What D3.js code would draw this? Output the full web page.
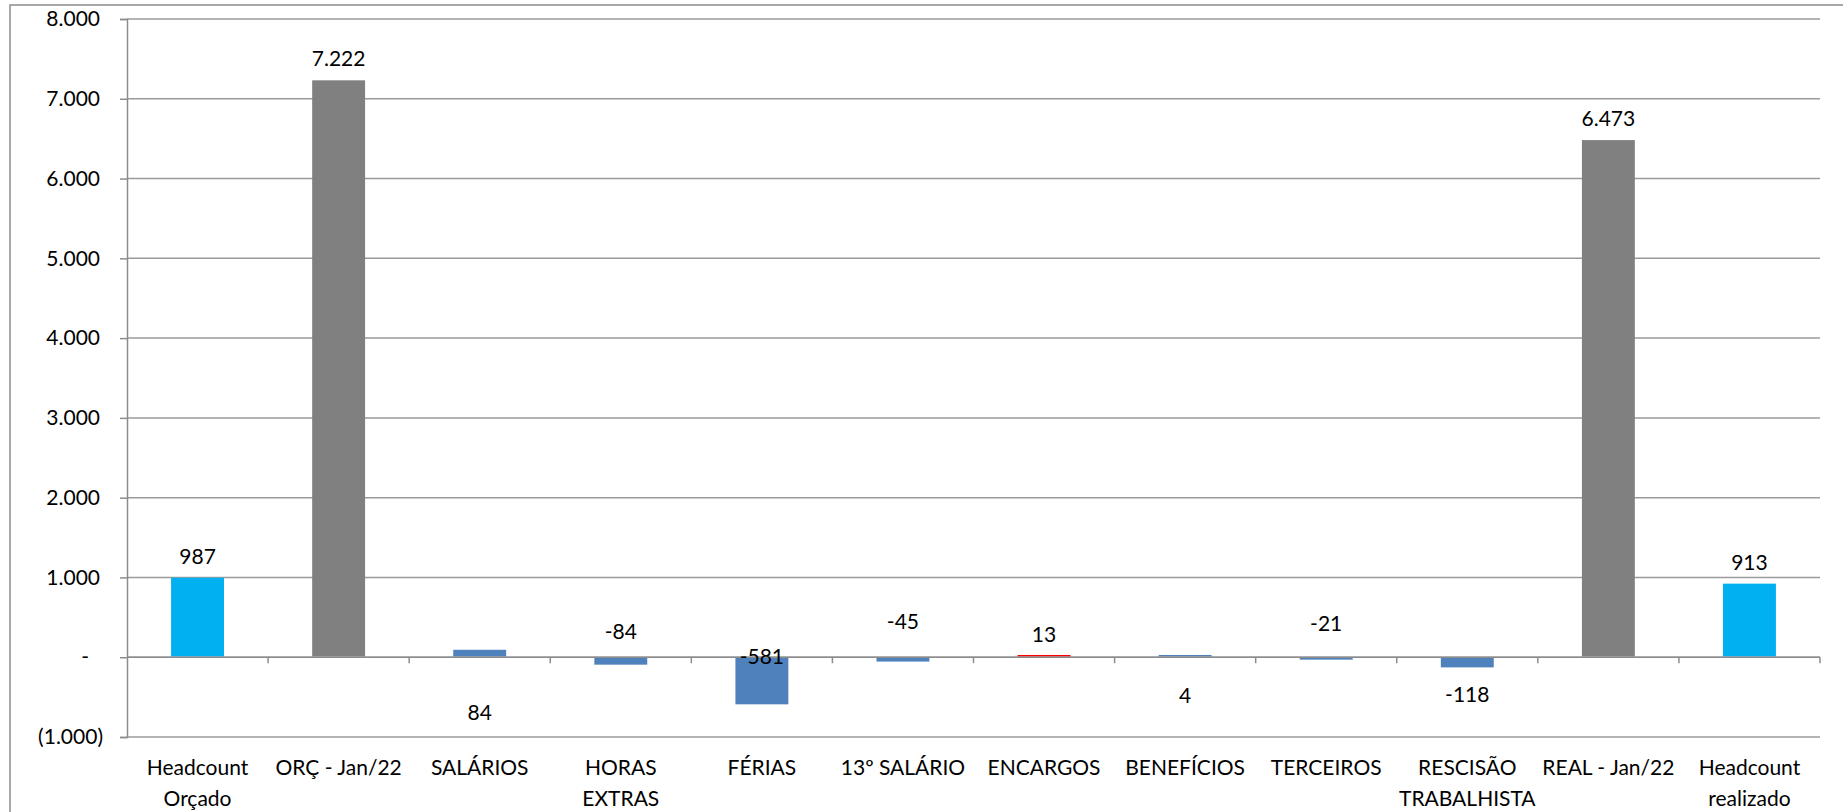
<!DOCTYPE html>
<html>
<head>
<meta charset="utf-8">
<script src="https://cdn.jsdelivr.net/npm/d3@7"></script>
<style>
  body { margin: 0; background: #fff; }
  text { font-family: Lato, "Liberation Sans", sans-serif; fill: #000; }
</style>
</head>
<body>
<svg width="1843" height="812"></svg>
<script>
// chart data
var categories = ["Headcount\nOrçado", "ORÇ - Jan/22", "SALÁRIOS", "HORAS\nEXTRAS", "FÉRIAS",
                  "13º SALÁRIO", "ENCARGOS", "BENEFÍCIOS", "TERCEIROS", "RESCISÃO\nTRABALHISTA",
                  "REAL - Jan/22", "Headcount\nrealizado"];
var values = [987, 7222, 84, -84, -581, -45, 13, 4, -21, -118, 6473, 913];
var kinds = ["headcount", "total", "var", "var", "var", "var", "up", "var", "var", "var", "total", "headcount"];
var yTicks = [-1000, 0, 1000, 2000, 3000, 4000, 5000, 6000, 7000, 8000];

// layout (label centre offsets from the zero line, null = above the bar end)
var labelOffset = [null, null, 55, -26, -1, -36, null, 38, -34, 37, null, null];
var colors = { headcount: "#00B0F0", total: "#808080", var: "#4F81BD", up: "#FF0000" };
var fontSize = 21;

var svg = d3.select("svg");
var plot = { left: 127, right: 1820, top: 19, bottom: 737 };

// outer frame
svg.append("rect")
    .attr("x", 10).attr("y", 5)
    .attr("width", 1900).attr("height", 900)
    .attr("fill", "none").attr("stroke", "#8c8c8c").attr("stroke-width", 1.5);

var yScale = d3.scaleLinear().domain([-1000, 8000]).range([plot.bottom, plot.top]);
var xScale = d3.scaleBand().domain(categories).range([plot.left, plot.right])
    .paddingInner(0.625).paddingOuter(0.3125);
var step = xScale.step();

var br = d3.formatLocale({ decimal: ",", thousands: ".", grouping: [3], currency: ["R$", ""], minus: "-" });
var fmt = br.format(",.0f");

// gridlines
svg.append("g").selectAll("line")
    .data(yTicks)
    .enter().append("line")
    .attr("x1", plot.left).attr("x2", plot.right)
    .attr("y1", (d) => yScale(d)).attr("y2", (d) => yScale(d))
    .attr("stroke", "#9a9a9a").attr("stroke-width", 1.5);

// y axis (accounting style labels)
var yAxis = d3.axisLeft(yScale).tickValues(yTicks).tickSize(7).tickPadding(0)
    .tickFormat((d) => d === 0 ? "-" : d < 0 ? "(" + fmt(-d) + ")" : fmt(d));
var gy = svg.append("g").attr("transform", "translate(" + plot.left + ",0)").call(yAxis);
gy.select(".domain").attr("stroke", "#8c8c8c").attr("stroke-width", 1.5);
gy.selectAll(".tick line").attr("stroke", "#8c8c8c").attr("stroke-width", 1.5);
gy.selectAll(".tick text")
    .attr("font-size", fontSize)
    .attr("font-family", "Lato, 'Liberation Sans', sans-serif")
    .attr("fill", "#000")
    .attr("x", (d) => d === 0 ? -38 : d < 0 ? -24 : -27);

var zeroY = yScale(0);

// bars (tiny ones kept visible next to the zero line)
svg.append("g").selectAll("rect")
    .data(values)
    .enter().append("rect")
    .attr("x", (d, i) => xScale(categories[i]))
    .attr("width", xScale.bandwidth())
    .attr("y", (d) => {
        var h = Math.max(1.5, Math.abs(yScale(d) - zeroY));
        return d >= 0 ? zeroY - 0.75 - h : zeroY + 0.75;
    })
    .attr("height", (d) => Math.max(1.5, Math.abs(yScale(d) - zeroY)))
    .attr("fill", (d, i) => colors[kinds[i]]);

// x axis on the zero line
svg.append("line")
    .attr("x1", plot.left).attr("x2", plot.right)
    .attr("y1", zeroY).attr("y2", zeroY)
    .attr("stroke", "#8c8c8c").attr("stroke-width", 1.5);
svg.append("g").selectAll("line")
    .data(categories)
    .enter().append("line")
    .attr("x1", (d) => xScale(d) + xScale.bandwidth() / 2 + step / 2)
    .attr("x2", (d) => xScale(d) + xScale.bandwidth() / 2 + step / 2)
    .attr("y1", zeroY).attr("y2", zeroY + 6)
    .attr("stroke", "#8c8c8c").attr("stroke-width", 1.5);

// category labels
var catText = svg.append("g").selectAll("text")
    .data(categories)
    .enter().append("text")
    .attr("text-anchor", "middle")
    .attr("font-size", fontSize)
    .attr("x", (d) => xScale(d) + xScale.bandwidth() / 2)
    .attr("y", 768);
catText.each(function (d) {
    var lines = d.split("\n");
    var t = d3.select(this);
    lines.forEach(function (l, k) {
        t.append("tspan")
            .attr("x", xScale(d) + xScale.bandwidth() / 2)
            .attr("dy", k === 0 ? "0.35em" : 31)
            .text(l);
    });
});

// value labels
svg.append("g").selectAll("text")
    .data(values)
    .enter().append("text")
    .attr("text-anchor", "middle")
    .attr("font-size", fontSize)
    .attr("x", (d, i) => xScale(categories[i]) + xScale.bandwidth() / 2)
    .attr("y", (d, i) => labelOffset[i] === null ? yScale(d) - 22 : zeroY + labelOffset[i])
    .attr("dy", "0.35em")
    .text((d) => fmt(d));
</script>
</body>
</html>
